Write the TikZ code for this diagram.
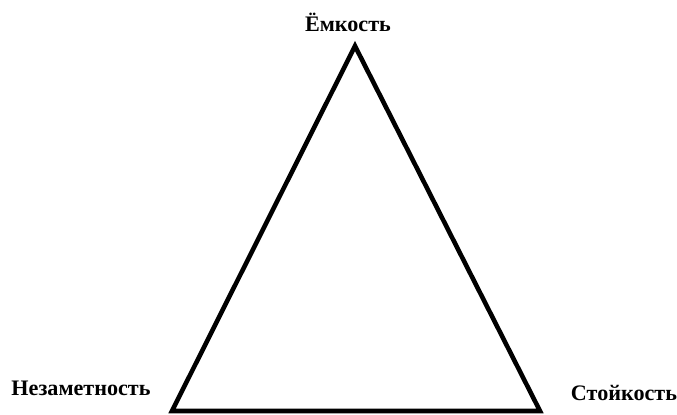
\documentclass[tikz,border=0pt]{standalone}
\usepackage{fontspec}
\setmainfont{Liberation Serif}
\usepackage{xcolor}

\begin{document}
\begin{tikzpicture}[x=0.02cm,y=-0.02cm]
      % frame: 677 x 414 px, 1px = 0.02cm, y grows downward
      \useasboundingbox (0,0) rectangle (677,414);
      \tikzset{lbl/.style={font=\fontsize{12.6}{14}\selectfont\bfseries, inner sep=0pt}}
      % corners of the triangle
      \coordinate (top) at (355,46);
      \coordinate (left) at (172,411);
      \coordinate (right) at (540,411);
      \draw[line width=2.6pt, line join=miter] (top) -- (right) -- (left) -- cycle;
      % corner labels
      \node[lbl] (cap) at (348,22) {Ёмкость};
      \node[lbl] (imp) at (81,388) {Незаметность};
      \node[lbl] (rob) at (624,393) {Стойкость};
\end{tikzpicture}
\end{document}
